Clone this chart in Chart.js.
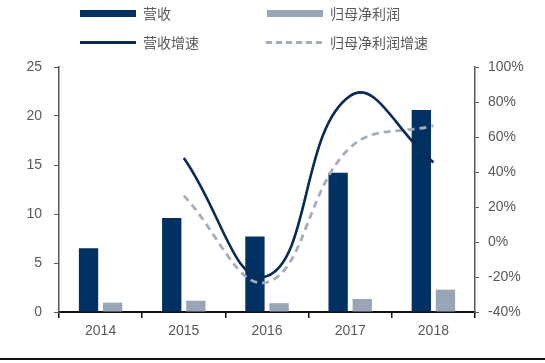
<!DOCTYPE html>
<html><head><meta charset="utf-8">
<script src="https://cdn.jsdelivr.net/npm/chart.js@4"></script>
<style>
html,body{margin:0;padding:0;background:#fff;}
#wrap{position:relative;width:545px;height:363px;overflow:hidden;}
#c{position:absolute;left:0;top:0;}
.lg{position:absolute;font-family:"Noto Sans CJK SC",sans-serif;font-size:14px;color:#595959;line-height:18px;}
.sw{position:absolute;}
#bline{position:absolute;left:0;top:358px;width:545px;height:2px;background:#111;}
</style></head>
<body><div id="wrap">
<canvas id="c" width="545" height="363"></canvas>
<div class="sw" style="left:80px;top:10px;width:56px;height:7px;background:#013163"></div>
<div class="lg" style="left:143px;top:4px">营收</div>
<div class="sw" style="left:267px;top:10px;width:56px;height:7px;background:#97a5b7"></div>
<div class="lg" style="left:330px;top:4px">归母净利润</div>
<div class="sw" style="left:80px;top:41px;width:56px;height:3px;background:#0b2a55"></div>
<div class="lg" style="left:143px;top:33px">营收增速</div>
<div class="sw" style="left:266px;top:41px;width:57px;height:3px;background:repeating-linear-gradient(90deg,#a3adbb 0 6px,transparent 6px 10px)"></div>
<div class="lg" style="left:330px;top:33px">归母净利润增速</div>
<div id="bline"></div>
</div>
<script>
const categories = ["2014","2015","2016","2017","2018"];
const revenue = [6.5, 9.6, 7.7, 14.2, 20.6];
const netProfit = [0.95, 1.15, 0.9, 1.33, 2.28];
const revenueGrowth = [null, 48, -19.5, 83.5, 45.5];
const profitGrowth = [null, 26.5, -23, 54, 66.5];

const tickFont = {family: "'Liberation Sans', Arial, sans-serif", size: 14};
const tickColor = "#595959";

new Chart(document.getElementById('c'), {
  type: 'bar',
  data: {
    labels: categories,
    datasets: [
      {type:'line', label:'营收增速', data: revenueGrowth, yAxisID:'y1', borderColor:'#0b2a55', borderWidth:2.6, pointRadius:0, tension:0.45, fill:false, order:0},
      {type:'line', label:'归母净利润增速', data: profitGrowth, yAxisID:'y1', borderColor:'#a3adbb', borderWidth:2.8, borderDash:[7,5], pointRadius:0, tension:0.4, fill:false, order:1},
      {label:'营收', data: revenue, yAxisID:'y', backgroundColor:'#013163', categoryPercentage:0.58, barPercentage:0.8, order:2},
      {label:'归母净利润', data: netProfit, yAxisID:'y', backgroundColor:'#97a5b7', categoryPercentage:0.58, barPercentage:0.8, order:3}
    ]
  },
  options: {
    responsive:false, animation:false, devicePixelRatio:1,
    layout:{padding:{top:67, left:0, right:0, bottom:0}},
    plugins:{legend:{display:false}, tooltip:{enabled:false}},
    scales:{
      x:{
        grid:{display:true, drawOnChartArea:false, drawTicks:true, tickLength:6, color:'#111', lineWidth:1.5, offset:true},
        border:{display:true, color:'#111', width:2},
        ticks:{font:tickFont, color:tickColor, padding:5},
        afterFit:(s)=>{s.height=51;}
      },
      y:{
        position:'left', min:0, max:25,
        grid:{drawOnChartArea:false, drawTicks:true, tickLength:5, color:'#595959'},
        border:{display:true, color:'#595959', width:1.5},
        ticks:{stepSize:5, font:tickFont, color:tickColor, padding:12},
        afterFit:(s)=>{s.width=59;}
      },
      y1:{
        position:'right', min:-40, max:100,
        grid:{drawOnChartArea:false, drawTicks:true, tickLength:4, color:'#595959'},
        border:{display:true, color:'#595959', width:1.5},
        ticks:{stepSize:20, font:tickFont, color:tickColor, padding:9, callback:(v)=>v+'%'},
        afterFit:(s)=>{s.width=70;}
      }
    }
  }
});
</script>
</body></html>
